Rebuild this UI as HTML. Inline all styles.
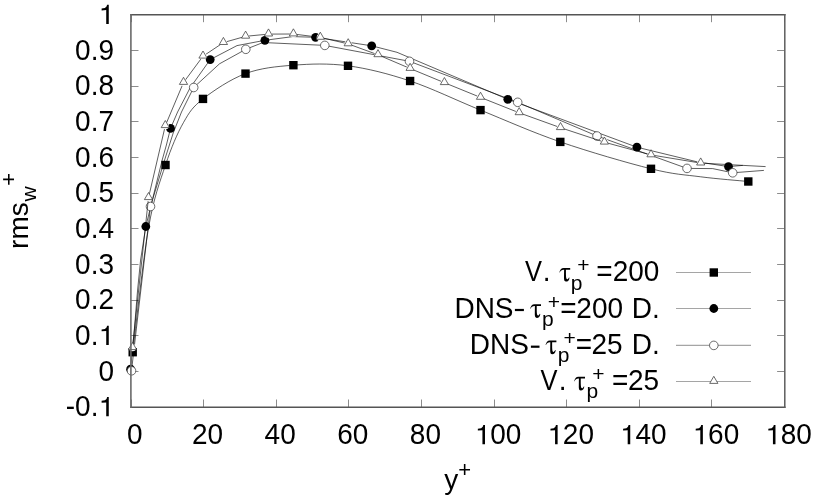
<!DOCTYPE html>
<html><head><meta charset="utf-8"><style>
html,body{margin:0;padding:0;background:#fff;width:814px;height:500px;overflow:hidden}
svg{display:block;position:absolute;left:0;top:0;will-change:transform;font-family:"Liberation Sans",sans-serif;font-size:28px}
text{fill:#000}
</style></head><body>
<svg width="814" height="500" viewBox="0 0 814 500">
<rect width="814" height="500" fill="#fff"/>
<line x1="131.50" y1="407.00" x2="131.50" y2="399.50" stroke="#8c8c8c" stroke-width="1"/>
<line x1="131.50" y1="14.70" x2="131.50" y2="22.20" stroke="#8c8c8c" stroke-width="1"/>
<line x1="203.50" y1="407.00" x2="203.50" y2="399.50" stroke="#8c8c8c" stroke-width="1"/>
<line x1="203.50" y1="14.70" x2="203.50" y2="22.20" stroke="#8c8c8c" stroke-width="1"/>
<line x1="276.50" y1="407.00" x2="276.50" y2="399.50" stroke="#8c8c8c" stroke-width="1"/>
<line x1="276.50" y1="14.70" x2="276.50" y2="22.20" stroke="#8c8c8c" stroke-width="1"/>
<line x1="348.50" y1="407.00" x2="348.50" y2="399.50" stroke="#8c8c8c" stroke-width="1"/>
<line x1="348.50" y1="14.70" x2="348.50" y2="22.20" stroke="#8c8c8c" stroke-width="1"/>
<line x1="421.50" y1="407.00" x2="421.50" y2="399.50" stroke="#8c8c8c" stroke-width="1"/>
<line x1="421.50" y1="14.70" x2="421.50" y2="22.20" stroke="#8c8c8c" stroke-width="1"/>
<line x1="494.50" y1="407.00" x2="494.50" y2="399.50" stroke="#8c8c8c" stroke-width="1"/>
<line x1="494.50" y1="14.70" x2="494.50" y2="22.20" stroke="#8c8c8c" stroke-width="1"/>
<line x1="566.50" y1="407.00" x2="566.50" y2="399.50" stroke="#8c8c8c" stroke-width="1"/>
<line x1="566.50" y1="14.70" x2="566.50" y2="22.20" stroke="#8c8c8c" stroke-width="1"/>
<line x1="639.50" y1="407.00" x2="639.50" y2="399.50" stroke="#8c8c8c" stroke-width="1"/>
<line x1="639.50" y1="14.70" x2="639.50" y2="22.20" stroke="#8c8c8c" stroke-width="1"/>
<line x1="711.50" y1="407.00" x2="711.50" y2="399.50" stroke="#8c8c8c" stroke-width="1"/>
<line x1="711.50" y1="14.70" x2="711.50" y2="22.20" stroke="#8c8c8c" stroke-width="1"/>
<line x1="784.50" y1="407.00" x2="784.50" y2="399.50" stroke="#8c8c8c" stroke-width="1"/>
<line x1="784.50" y1="14.70" x2="784.50" y2="22.20" stroke="#8c8c8c" stroke-width="1"/>
<line x1="131.00" y1="407.50" x2="138.50" y2="407.50" stroke="#8c8c8c" stroke-width="1"/>
<line x1="784.60" y1="407.50" x2="777.10" y2="407.50" stroke="#8c8c8c" stroke-width="1"/>
<line x1="131.00" y1="371.50" x2="138.50" y2="371.50" stroke="#8c8c8c" stroke-width="1"/>
<line x1="784.60" y1="371.50" x2="777.10" y2="371.50" stroke="#8c8c8c" stroke-width="1"/>
<line x1="131.00" y1="335.50" x2="138.50" y2="335.50" stroke="#8c8c8c" stroke-width="1"/>
<line x1="784.60" y1="335.50" x2="777.10" y2="335.50" stroke="#8c8c8c" stroke-width="1"/>
<line x1="131.00" y1="300.50" x2="138.50" y2="300.50" stroke="#8c8c8c" stroke-width="1"/>
<line x1="784.60" y1="300.50" x2="777.10" y2="300.50" stroke="#8c8c8c" stroke-width="1"/>
<line x1="131.00" y1="264.50" x2="138.50" y2="264.50" stroke="#8c8c8c" stroke-width="1"/>
<line x1="784.60" y1="264.50" x2="777.10" y2="264.50" stroke="#8c8c8c" stroke-width="1"/>
<line x1="131.00" y1="228.50" x2="138.50" y2="228.50" stroke="#8c8c8c" stroke-width="1"/>
<line x1="784.60" y1="228.50" x2="777.10" y2="228.50" stroke="#8c8c8c" stroke-width="1"/>
<line x1="131.00" y1="193.50" x2="138.50" y2="193.50" stroke="#8c8c8c" stroke-width="1"/>
<line x1="784.60" y1="193.50" x2="777.10" y2="193.50" stroke="#8c8c8c" stroke-width="1"/>
<line x1="131.00" y1="157.50" x2="138.50" y2="157.50" stroke="#8c8c8c" stroke-width="1"/>
<line x1="784.60" y1="157.50" x2="777.10" y2="157.50" stroke="#8c8c8c" stroke-width="1"/>
<line x1="131.00" y1="121.50" x2="138.50" y2="121.50" stroke="#8c8c8c" stroke-width="1"/>
<line x1="784.60" y1="121.50" x2="777.10" y2="121.50" stroke="#8c8c8c" stroke-width="1"/>
<line x1="131.00" y1="86.50" x2="138.50" y2="86.50" stroke="#8c8c8c" stroke-width="1"/>
<line x1="784.60" y1="86.50" x2="777.10" y2="86.50" stroke="#8c8c8c" stroke-width="1"/>
<line x1="131.00" y1="50.50" x2="138.50" y2="50.50" stroke="#8c8c8c" stroke-width="1"/>
<line x1="784.60" y1="50.50" x2="777.10" y2="50.50" stroke="#8c8c8c" stroke-width="1"/>
<line x1="131.00" y1="14.50" x2="138.50" y2="14.50" stroke="#8c8c8c" stroke-width="1"/>
<line x1="784.60" y1="14.50" x2="777.10" y2="14.50" stroke="#8c8c8c" stroke-width="1"/>
<path d="M132.70,352.20 L133.91,342.20 L135.51,328.45 L137.42,312.03 L139.54,294.04 L141.79,275.55 L144.10,257.66 L146.36,241.45 L148.50,228.00 L150.56,217.06 L152.64,207.47 L154.74,198.99 L156.86,191.39 L159.00,184.43 L161.15,177.87 L163.32,171.48 L165.50,165.00 L167.69,158.58 L169.89,152.49 L172.11,146.73 L174.34,141.29 L176.60,136.15 L178.87,131.32 L181.17,126.77 L183.50,122.50 L185.71,118.66 L187.73,115.31 L189.69,112.34 L191.72,109.62 L193.94,107.04 L196.47,104.48 L199.45,101.80 L203.00,98.90 L207.17,95.70 L211.88,92.30 L217.02,88.79 L222.47,85.30 L228.16,81.92 L233.96,78.78 L239.77,75.97 L245.50,73.60 L251.18,71.68 L256.94,70.10 L262.77,68.82 L268.69,67.78 L274.71,66.95 L280.83,66.27 L287.05,65.70 L293.40,65.20 L299.85,64.74 L306.40,64.38 L313.05,64.12 L319.81,64.03 L326.68,64.11 L333.67,64.41 L340.77,64.96 L348.00,65.80 L355.35,66.91 L362.80,68.25 L370.37,69.82 L378.06,71.62 L385.88,73.64 L393.82,75.88 L401.89,78.34 L410.10,81.00 L418.44,83.95 L426.90,87.23 L435.48,90.78 L444.19,94.51 L453.05,98.38 L462.04,102.31 L471.19,106.24 L480.50,110.10 L489.95,113.98 L499.53,117.97 L509.26,122.04 L519.13,126.14 L529.16,130.22 L539.36,134.23 L549.74,138.14 L560.30,141.90 L571.40,145.63 L583.17,149.41 L595.32,153.18 L607.53,156.84 L619.51,160.31 L630.95,163.52 L641.55,166.38 L651.00,168.80 L659.19,170.73 L666.36,172.21 L672.73,173.33 L678.54,174.19 L684.02,174.87 L689.38,175.47 L694.87,176.09 L700.70,176.80 L707.08,177.58 L713.86,178.32 L720.80,179.01 L727.61,179.65 L734.03,180.23 L739.80,180.73 L744.64,181.16 L748.30,181.50" fill="none" stroke="#000" stroke-opacity="0.74" stroke-width="0.85"/>
<circle cx="132.70" cy="352.20" r="3.60" fill="#fff"/>
<circle cx="165.50" cy="165.00" r="3.60" fill="#fff"/>
<circle cx="203.00" cy="98.90" r="3.60" fill="#fff"/>
<circle cx="245.50" cy="73.60" r="3.60" fill="#fff"/>
<circle cx="293.40" cy="65.20" r="3.60" fill="#fff"/>
<circle cx="348.00" cy="65.80" r="3.60" fill="#fff"/>
<circle cx="410.10" cy="81.00" r="3.60" fill="#fff"/>
<circle cx="480.50" cy="110.10" r="3.60" fill="#fff"/>
<circle cx="560.30" cy="141.90" r="3.60" fill="#fff"/>
<circle cx="651.00" cy="168.80" r="3.60" fill="#fff"/>
<circle cx="748.30" cy="181.50" r="3.60" fill="#fff"/>
<rect x="128.50" y="348.00" width="8.40" height="8.40" fill="#000"/>
<rect x="161.30" y="160.80" width="8.40" height="8.40" fill="#000"/>
<rect x="198.80" y="94.70" width="8.40" height="8.40" fill="#000"/>
<rect x="241.30" y="69.40" width="8.40" height="8.40" fill="#000"/>
<rect x="289.20" y="61.00" width="8.40" height="8.40" fill="#000"/>
<rect x="343.80" y="61.60" width="8.40" height="8.40" fill="#000"/>
<rect x="405.90" y="76.80" width="8.40" height="8.40" fill="#000"/>
<rect x="476.30" y="105.90" width="8.40" height="8.40" fill="#000"/>
<rect x="556.10" y="137.70" width="8.40" height="8.40" fill="#000"/>
<rect x="646.80" y="164.60" width="8.40" height="8.40" fill="#000"/>
<rect x="744.10" y="177.30" width="8.40" height="8.40" fill="#000"/>
<path d="M130.60,369.20 L134.30,330.00 L137.60,290.00 L140.60,260.00 L145.80,226.50 L162.20,160.00 L166.40,145.00 L170.50,128.40 L177.60,112.00 L190.00,88.00 L210.20,59.60 L237.00,45.60 L264.90,40.30 L292.80,36.60 L315.60,37.30 L371.70,45.80 L397.00,52.30 L507.80,99.30 L636.90,147.20 L697.00,161.80 L728.50,166.60 L742.80,165.40" fill="none" stroke="#000" stroke-opacity="0.74" stroke-width="0.85"/>
<circle cx="130.60" cy="369.20" r="3.60" fill="#fff"/>
<circle cx="145.80" cy="226.50" r="3.60" fill="#fff"/>
<circle cx="170.50" cy="128.40" r="3.60" fill="#fff"/>
<circle cx="210.20" cy="59.60" r="3.60" fill="#fff"/>
<circle cx="264.90" cy="40.30" r="3.60" fill="#fff"/>
<circle cx="315.60" cy="37.30" r="3.60" fill="#fff"/>
<circle cx="371.70" cy="45.80" r="3.60" fill="#fff"/>
<circle cx="507.80" cy="99.30" r="3.60" fill="#fff"/>
<circle cx="636.90" cy="147.20" r="3.60" fill="#fff"/>
<circle cx="728.50" cy="166.60" r="3.60" fill="#fff"/>
<circle cx="130.60" cy="369.20" r="4.40" fill="#000"/>
<circle cx="145.80" cy="226.50" r="4.40" fill="#000"/>
<circle cx="170.50" cy="128.40" r="4.40" fill="#000"/>
<circle cx="210.20" cy="59.60" r="4.40" fill="#000"/>
<circle cx="264.90" cy="40.30" r="4.40" fill="#000"/>
<circle cx="315.60" cy="37.30" r="4.40" fill="#000"/>
<circle cx="371.70" cy="45.80" r="4.40" fill="#000"/>
<circle cx="507.80" cy="99.30" r="4.40" fill="#000"/>
<circle cx="636.90" cy="147.20" r="4.40" fill="#000"/>
<circle cx="728.50" cy="166.60" r="4.40" fill="#000"/>
<path d="M131.50,370.80 L150.50,206.50 L164.60,160.00 L169.40,145.00 L173.20,133.00 L181.50,112.00 L193.70,87.50 L219.50,63.80 L245.80,49.30 L263.00,42.50 L324.80,45.40 L409.50,61.30 L517.70,102.30 L597.00,136.00 L687.00,168.40 L712.70,168.60 L732.70,172.80 L763.90,170.40" fill="none" stroke="#000" stroke-opacity="0.74" stroke-width="0.85"/>
<circle cx="131.50" cy="370.80" r="3.60" fill="#fff"/>
<circle cx="150.50" cy="206.50" r="3.60" fill="#fff"/>
<circle cx="193.70" cy="87.50" r="3.60" fill="#fff"/>
<circle cx="245.80" cy="49.30" r="3.60" fill="#fff"/>
<circle cx="324.80" cy="45.40" r="3.60" fill="#fff"/>
<circle cx="409.50" cy="61.30" r="3.60" fill="#fff"/>
<circle cx="517.70" cy="102.30" r="3.60" fill="#fff"/>
<circle cx="597.00" cy="136.00" r="3.60" fill="#fff"/>
<circle cx="687.00" cy="168.40" r="3.60" fill="#fff"/>
<circle cx="732.70" cy="172.80" r="3.60" fill="#fff"/>
<circle cx="131.50" cy="370.80" r="4.30" fill="#fff" stroke="#3a3a3a" stroke-width="0.75"/>
<circle cx="150.50" cy="206.50" r="4.30" fill="#fff" stroke="#3a3a3a" stroke-width="0.75"/>
<circle cx="193.70" cy="87.50" r="4.30" fill="#fff" stroke="#3a3a3a" stroke-width="0.75"/>
<circle cx="245.80" cy="49.30" r="4.30" fill="#fff" stroke="#3a3a3a" stroke-width="0.75"/>
<circle cx="324.80" cy="45.40" r="4.30" fill="#fff" stroke="#3a3a3a" stroke-width="0.75"/>
<circle cx="409.50" cy="61.30" r="4.30" fill="#fff" stroke="#3a3a3a" stroke-width="0.75"/>
<circle cx="517.70" cy="102.30" r="4.30" fill="#fff" stroke="#3a3a3a" stroke-width="0.75"/>
<circle cx="597.00" cy="136.00" r="4.30" fill="#fff" stroke="#3a3a3a" stroke-width="0.75"/>
<circle cx="687.00" cy="168.40" r="4.30" fill="#fff" stroke="#3a3a3a" stroke-width="0.75"/>
<circle cx="732.70" cy="172.80" r="4.30" fill="#fff" stroke="#3a3a3a" stroke-width="0.75"/>
<path d="M132.50,347.70 L148.50,197.70 L165.30,125.70 L183.50,82.50 L203.00,56.20 L223.40,42.60 L245.60,36.30 L268.50,34.10 L293.40,34.00 L320.30,37.40 L348.20,43.90 L378.00,54.80 L410.10,68.50 L444.40,82.70 L480.50,97.40 L519.20,112.80 L560.50,127.70 L604.40,142.20 L651.00,154.90 L700.70,163.10 L765.60,166.60" fill="none" stroke="#000" stroke-opacity="0.74" stroke-width="0.85"/>
<circle cx="132.50" cy="347.70" r="3.60" fill="#fff"/>
<circle cx="148.50" cy="197.70" r="3.60" fill="#fff"/>
<circle cx="165.30" cy="125.70" r="3.60" fill="#fff"/>
<circle cx="183.50" cy="82.50" r="3.60" fill="#fff"/>
<circle cx="203.00" cy="56.20" r="3.60" fill="#fff"/>
<circle cx="223.40" cy="42.60" r="3.60" fill="#fff"/>
<circle cx="245.60" cy="36.30" r="3.60" fill="#fff"/>
<circle cx="268.50" cy="34.10" r="3.60" fill="#fff"/>
<circle cx="293.40" cy="34.00" r="3.60" fill="#fff"/>
<circle cx="320.30" cy="37.40" r="3.60" fill="#fff"/>
<circle cx="348.20" cy="43.90" r="3.60" fill="#fff"/>
<circle cx="378.00" cy="54.80" r="3.60" fill="#fff"/>
<circle cx="410.10" cy="68.50" r="3.60" fill="#fff"/>
<circle cx="444.40" cy="82.70" r="3.60" fill="#fff"/>
<circle cx="480.50" cy="97.40" r="3.60" fill="#fff"/>
<circle cx="519.20" cy="112.80" r="3.60" fill="#fff"/>
<circle cx="560.50" cy="127.70" r="3.60" fill="#fff"/>
<circle cx="604.40" cy="142.20" r="3.60" fill="#fff"/>
<circle cx="651.00" cy="154.90" r="3.60" fill="#fff"/>
<circle cx="700.70" cy="163.10" r="3.60" fill="#fff"/>
<path d="M132.50,342.50 L136.60,349.60 L128.40,349.60 Z" fill="#fff" stroke="#3a3a3a" stroke-width="0.75"/>
<path d="M148.50,192.50 L152.60,199.60 L144.40,199.60 Z" fill="#fff" stroke="#3a3a3a" stroke-width="0.75"/>
<path d="M165.30,120.50 L169.40,127.60 L161.20,127.60 Z" fill="#fff" stroke="#3a3a3a" stroke-width="0.75"/>
<path d="M183.50,77.30 L187.60,84.40 L179.40,84.40 Z" fill="#fff" stroke="#3a3a3a" stroke-width="0.75"/>
<path d="M203.00,51.00 L207.10,58.10 L198.90,58.10 Z" fill="#fff" stroke="#3a3a3a" stroke-width="0.75"/>
<path d="M223.40,37.40 L227.50,44.50 L219.30,44.50 Z" fill="#fff" stroke="#3a3a3a" stroke-width="0.75"/>
<path d="M245.60,31.10 L249.70,38.20 L241.50,38.20 Z" fill="#fff" stroke="#3a3a3a" stroke-width="0.75"/>
<path d="M268.50,28.90 L272.60,36.00 L264.40,36.00 Z" fill="#fff" stroke="#3a3a3a" stroke-width="0.75"/>
<path d="M293.40,28.80 L297.50,35.90 L289.30,35.90 Z" fill="#fff" stroke="#3a3a3a" stroke-width="0.75"/>
<path d="M320.30,32.20 L324.40,39.30 L316.20,39.30 Z" fill="#fff" stroke="#3a3a3a" stroke-width="0.75"/>
<path d="M348.20,38.70 L352.30,45.80 L344.10,45.80 Z" fill="#fff" stroke="#3a3a3a" stroke-width="0.75"/>
<path d="M378.00,49.60 L382.10,56.70 L373.90,56.70 Z" fill="#fff" stroke="#3a3a3a" stroke-width="0.75"/>
<path d="M410.10,63.30 L414.20,70.40 L406.00,70.40 Z" fill="#fff" stroke="#3a3a3a" stroke-width="0.75"/>
<path d="M444.40,77.50 L448.50,84.60 L440.30,84.60 Z" fill="#fff" stroke="#3a3a3a" stroke-width="0.75"/>
<path d="M480.50,92.20 L484.60,99.30 L476.40,99.30 Z" fill="#fff" stroke="#3a3a3a" stroke-width="0.75"/>
<path d="M519.20,107.60 L523.30,114.70 L515.10,114.70 Z" fill="#fff" stroke="#3a3a3a" stroke-width="0.75"/>
<path d="M560.50,122.50 L564.60,129.60 L556.40,129.60 Z" fill="#fff" stroke="#3a3a3a" stroke-width="0.75"/>
<path d="M604.40,137.00 L608.50,144.10 L600.30,144.10 Z" fill="#fff" stroke="#3a3a3a" stroke-width="0.75"/>
<path d="M651.00,149.70 L655.10,156.80 L646.90,156.80 Z" fill="#fff" stroke="#3a3a3a" stroke-width="0.75"/>
<path d="M700.70,157.90 L704.80,165.00 L696.60,165.00 Z" fill="#fff" stroke="#3a3a3a" stroke-width="0.75"/>
<path d="M130.15,14.75 H785.55 M130.15,407.25 H785.55" stroke="#555" stroke-width="1.5" fill="none"/><path d="M130.9,14 V408" stroke="#6a6a6a" stroke-width="1.6" fill="none"/><path d="M784.8,14 V408" stroke="#5e5e5e" stroke-width="1.5" fill="none"/>
<text transform="translate(65.74,416.30) scale(1,1.045)">-0.</text><path d="M108.77,416.30 L108.77,397.10 L107.12,397.10 L106.52,398.90 L104.92,400.30 L101.62,400.80 L101.62,402.70 L106.22,402.40 L106.22,416.30 Z"/>
<text transform="translate(98.42,380.64) scale(1,1.045)">0</text>
<text transform="translate(75.06,344.97) scale(1,1.045)">0.</text><path d="M108.77,344.97 L108.77,325.77 L107.12,325.77 L106.52,327.57 L104.92,328.97 L101.62,329.47 L101.62,331.37 L106.22,331.07 L106.22,344.97 Z"/>
<text transform="translate(75.06,309.31) scale(1,1.045)">0.2</text>
<text transform="translate(75.06,273.65) scale(1,1.045)">0.3</text>
<text transform="translate(75.06,237.98) scale(1,1.045)">0.4</text>
<text transform="translate(75.06,202.32) scale(1,1.045)">0.5</text>
<text transform="translate(75.06,166.65) scale(1,1.045)">0.6</text>
<text transform="translate(75.06,130.99) scale(1,1.045)">0.7</text>
<text transform="translate(75.06,95.33) scale(1,1.045)">0.8</text>
<text transform="translate(75.06,59.66) scale(1,1.045)">0.9</text>
<path d="M108.77,24.00 L108.77,4.80 L107.12,4.80 L106.52,6.60 L104.92,8.00 L101.62,8.50 L101.62,10.40 L106.22,10.10 L106.22,24.00 Z"/>
<text transform="translate(127.11,444.20) scale(1,1.045)">0</text>
<text transform="translate(191.94,444.20) scale(1,1.045)">20</text>
<text transform="translate(264.57,444.20) scale(1,1.045)">40</text>
<text transform="translate(337.19,444.20) scale(1,1.045)">60</text>
<text transform="translate(409.81,444.20) scale(1,1.045)">80</text>
<path d="M484.99,444.20 L484.99,425.00 L483.34,425.00 L482.74,426.80 L481.14,428.20 L477.84,428.70 L477.84,430.60 L482.44,430.30 L482.44,444.20 Z"/><text transform="translate(490.22,444.20) scale(1,1.045)">00</text>
<path d="M557.62,444.20 L557.62,425.00 L555.97,425.00 L555.37,426.80 L553.77,428.20 L550.47,428.70 L550.47,430.60 L555.07,430.30 L555.07,444.20 Z"/><text transform="translate(562.84,444.20) scale(1,1.045)">20</text>
<path d="M630.24,444.20 L630.24,425.00 L628.59,425.00 L627.99,426.80 L626.39,428.20 L623.09,428.70 L623.09,430.60 L627.69,430.30 L627.69,444.20 Z"/><text transform="translate(635.47,444.20) scale(1,1.045)">40</text>
<path d="M702.86,444.20 L702.86,425.00 L701.21,425.00 L700.61,426.80 L699.01,428.20 L695.71,428.70 L695.71,430.60 L700.31,430.30 L700.31,444.20 Z"/><text transform="translate(708.09,444.20) scale(1,1.045)">60</text>
<path d="M775.48,444.20 L775.48,425.00 L773.83,425.00 L773.23,426.80 L771.63,428.20 L768.33,428.70 L768.33,430.60 L772.93,430.30 L772.93,444.20 Z"/><text transform="translate(780.71,444.20) scale(1,1.045)">80</text>
<text x="444.35" y="488.5">y</text><text x="458.3" y="476.7" style="font-size:22px">+</text>
<text transform="translate(28.3,248.9) rotate(-90)">rms</text>
<text transform="translate(35.7,201.6) rotate(-90)" style="font-size:21px">w</text>
<text transform="translate(15.6,185.8) rotate(-90)" style="font-size:22px">+</text>
<text transform="translate(524.9,281.30) scale(0.91,1.045)">V</text>
<text transform="translate(542.7,281.30) scale(1,1.045)">.</text>
<path d="M559.40,272.30 C560.00,269.80 561.20,267.90 563.70,267.90 L570.20,267.90 L570.20,269.70 L565.95,269.70 C565.95,273.30 565.90,276.30 566.30,278.30 C566.90,279.80 568.00,279.70 569.00,277.50 L569.50,277.70 C569.30,280.30 567.80,281.60 566.00,281.60 C564.60,281.60 564.00,280.30 564.00,278.30 C564.00,275.30 564.10,272.30 564.10,269.70 L563.70,269.70 C561.80,269.70 560.50,270.80 559.80,272.40 Z"/>
<text x="570.80" y="289.50" style="font-size:21px">p</text>
<text x="577.27" y="272.40" style="font-size:21px">+</text>
<text transform="translate(596.2,281.30) scale(1,1.045)">=</text>
<text transform="translate(612.7,281.30) scale(1,1.045)">200</text>
<text transform="translate(454.45,317.60) scale(1,1.045)">DNS</text>
<rect x="514.9" y="308.90" width="9.0" height="2.2"/>
<path d="M530.20,308.60 C530.80,306.10 532.00,304.20 534.50,304.20 L541.00,304.20 L541.00,306.00 L536.75,306.00 C536.75,309.60 536.70,312.60 537.10,314.60 C537.70,316.10 538.80,316.00 539.80,313.80 L540.30,314.00 C540.10,316.60 538.60,317.90 536.80,317.90 C535.40,317.90 534.80,316.60 534.80,314.60 C534.80,311.60 534.90,308.60 534.90,306.00 L534.50,306.00 C532.60,306.00 531.30,307.10 530.60,308.70 Z"/>
<text x="542.10" y="325.80" style="font-size:21px">p</text>
<text x="547.77" y="308.70" style="font-size:21px">+</text>
<text transform="translate(560.27,317.60) scale(1,1.045)">=</text>
<text transform="translate(576.35,317.60) scale(1,1.045)">200</text>
<text transform="translate(631.7,317.60) scale(1,1.045)">D.</text>
<text transform="translate(469.75,353.90) scale(1,1.045)">DNS</text>
<rect x="530.9" y="345.60" width="8.6" height="2.2"/>
<path d="M545.60,344.90 C546.20,342.40 547.40,340.50 549.90,340.50 L556.40,340.50 L556.40,342.30 L552.15,342.30 C552.15,345.90 552.10,348.90 552.50,350.90 C553.10,352.40 554.20,352.30 555.20,350.10 L555.70,350.30 C555.50,352.90 554.00,354.20 552.20,354.20 C550.80,354.20 550.20,352.90 550.20,350.90 C550.20,347.90 550.30,344.90 550.30,342.30 L549.90,342.30 C548.00,342.30 546.70,343.40 546.00,345.00 Z"/>
<text x="557.80" y="362.10" style="font-size:21px">p</text>
<text x="563.38" y="345.00" style="font-size:21px">+</text>
<text transform="translate(575.7,353.90) scale(1,1.045)">=</text>
<text transform="translate(591.45,353.90) scale(1,1.045)">25</text>
<text transform="translate(631.7,353.90) scale(1,1.045)">D.</text>
<text transform="translate(540.5,390.20) scale(0.91,1.045)">V</text>
<text transform="translate(558.7,390.20) scale(1,1.045)">.</text>
<path d="M574.20,381.20 C574.80,378.70 576.00,376.80 578.50,376.80 L585.00,376.80 L585.00,378.60 L580.75,378.60 C580.75,382.20 580.70,385.20 581.10,387.20 C581.70,388.70 582.80,388.60 583.80,386.40 L584.30,386.60 C584.10,389.20 582.60,390.50 580.80,390.50 C579.40,390.50 578.80,389.20 578.80,387.20 C578.80,384.20 578.90,381.20 578.90,378.60 L578.50,378.60 C576.60,378.60 575.30,379.70 574.60,381.30 Z"/>
<text x="586.50" y="398.40" style="font-size:21px">p</text>
<text x="592.27" y="381.30" style="font-size:21px">+</text>
<text transform="translate(611.9,390.20) scale(1,1.045)">=</text>
<text transform="translate(628.0,390.20) scale(1,1.045)">25</text>
<line x1="676" y1="272.50" x2="751" y2="272.50" stroke="#a5a5a5" stroke-width="1.1"/>
<rect x="709.60" y="268.30" width="8.40" height="8.40" fill="#000"/>
<line x1="676" y1="308.50" x2="751" y2="308.50" stroke="#a5a5a5" stroke-width="1.1"/>
<circle cx="713.80" cy="308.50" r="4.40" fill="#000"/>
<line x1="676" y1="345.40" x2="751" y2="345.40" stroke="#a5a5a5" stroke-width="1.1"/>
<circle cx="713.80" cy="345.40" r="4.30" fill="#fff" stroke="#3a3a3a" stroke-width="0.75"/>
<line x1="676" y1="381.50" x2="751" y2="381.50" stroke="#a5a5a5" stroke-width="1.1"/>
<path d="M713.80,376.30 L717.90,383.40 L709.70,383.40 Z" fill="#fff" stroke="#3a3a3a" stroke-width="0.75"/>
</svg></body></html>
